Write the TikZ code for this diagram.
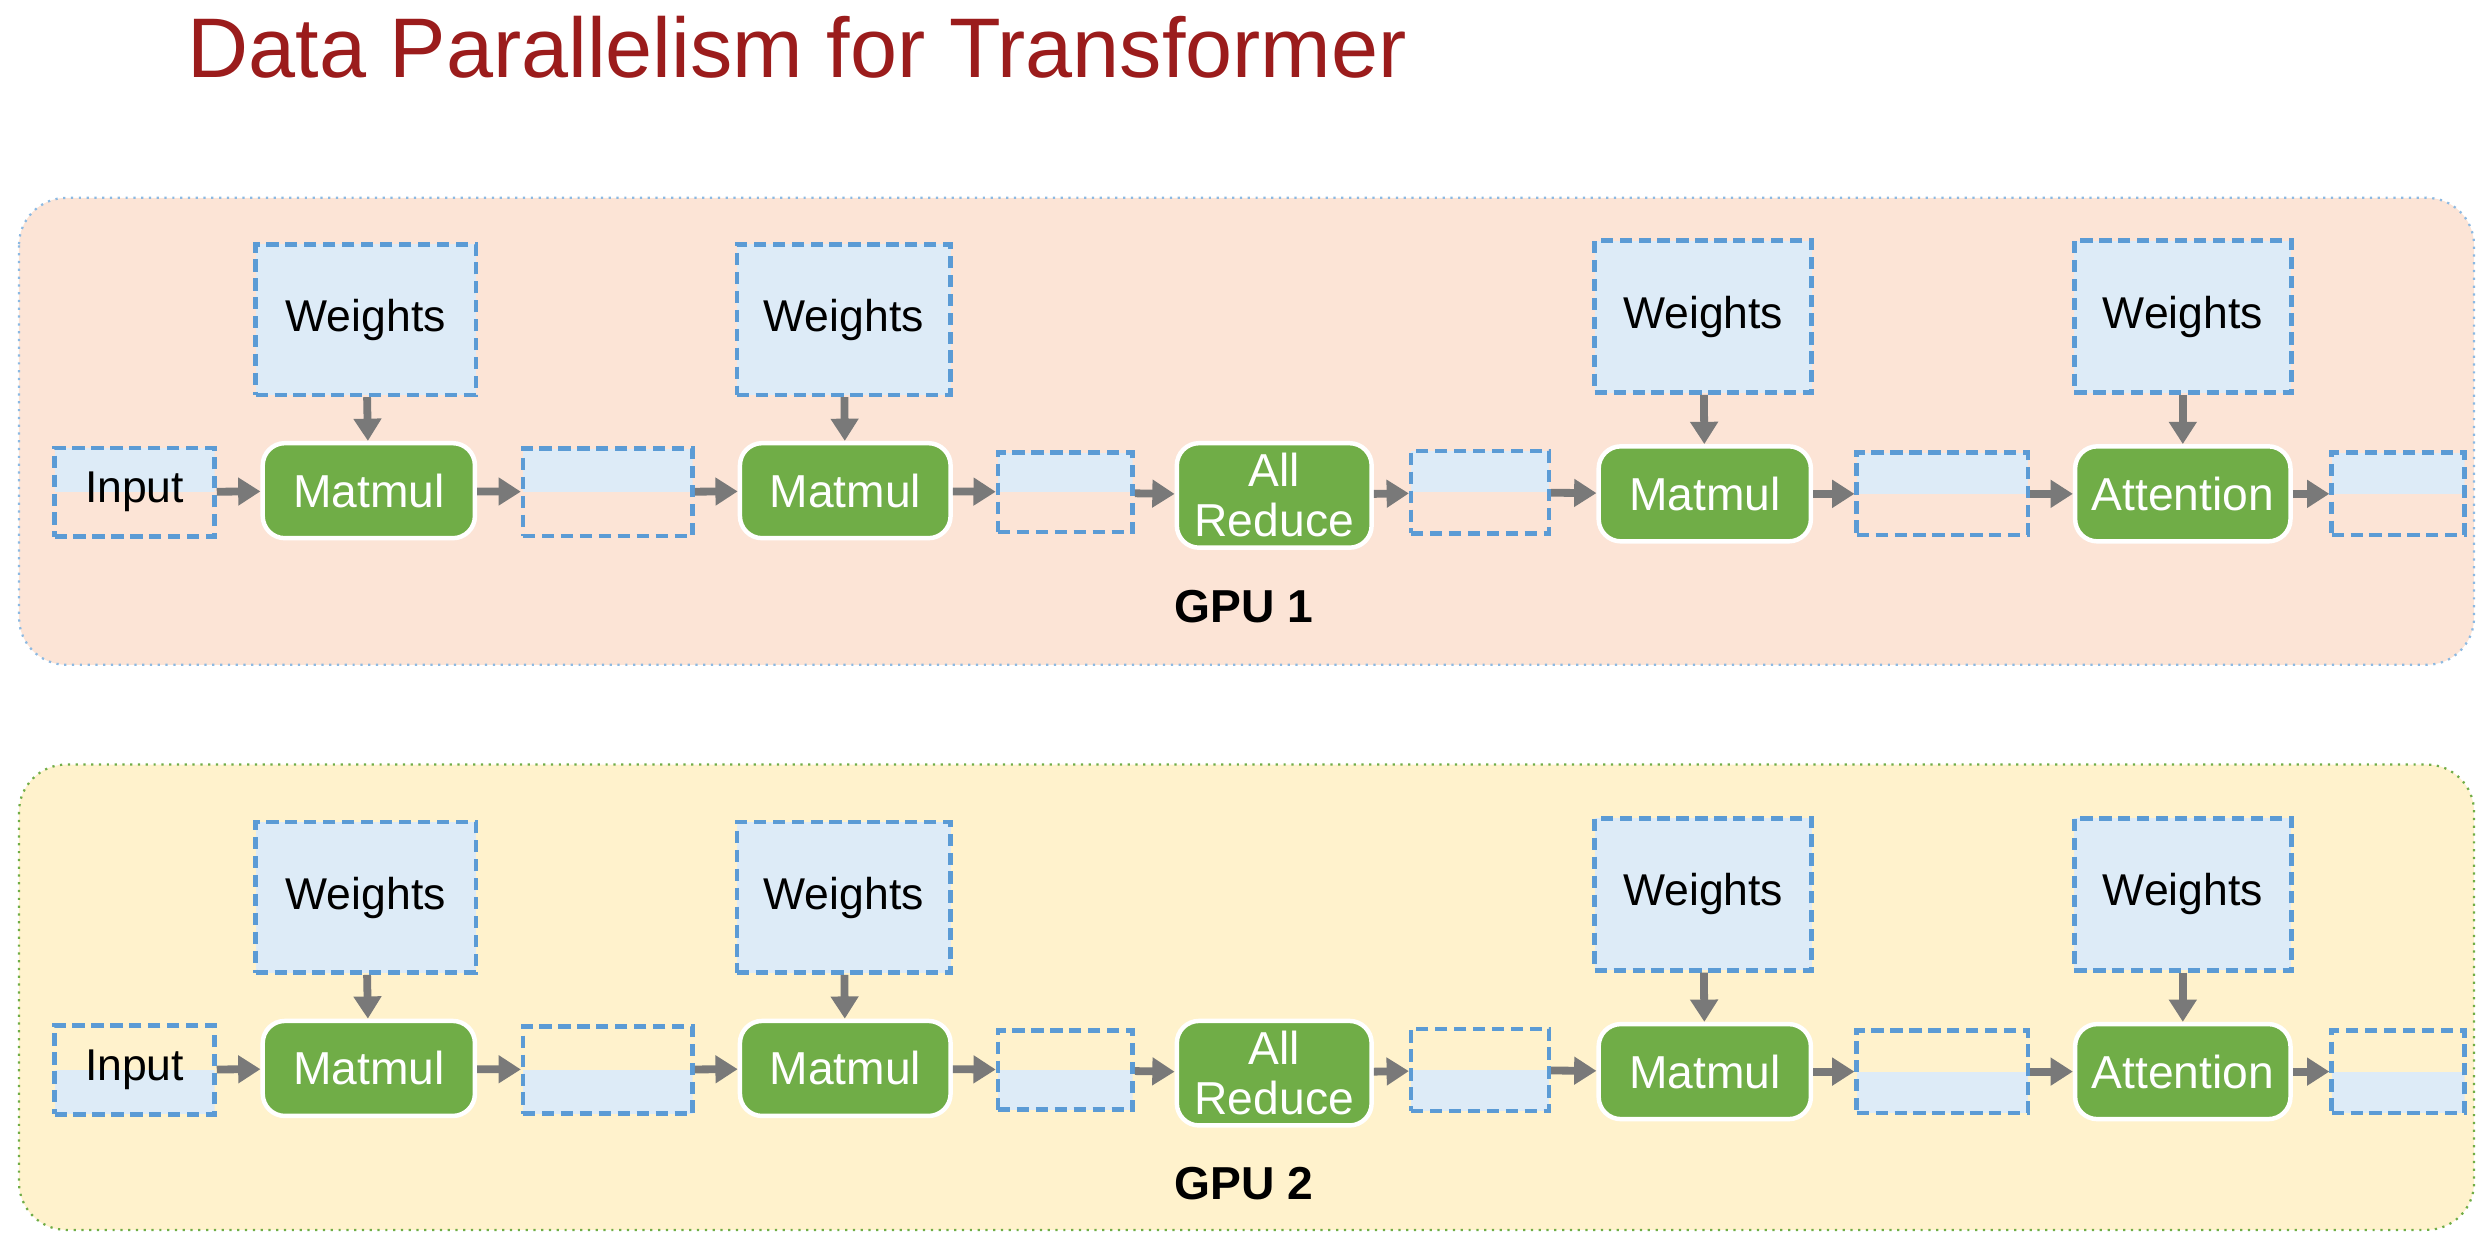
\documentclass[tikz,border=0pt]{standalone}
\usepackage{fontspec}
\setmainfont{Liberation Sans}
\usetikzlibrary{arrows.meta}
\definecolor{titlered}{HTML}{9B1C1C}
\definecolor{opgreen}{HTML}{70AD47}
\definecolor{datablue}{HTML}{DDEBF7}
\definecolor{dashblue}{HTML}{5B9BD5}
\definecolor{peach}{HTML}{FCE4D6}
\definecolor{cream}{HTML}{FFF2CC}
\tikzset{
  panel/.style={rounded corners=0.3cm, densely dotted},
  opbox/.style={fill=opgreen, draw=white, thick, rounded corners=0.14cm, text=white, align=center, font=\fontsize{8.3}{9}\selectfont, inner sep=0pt},
  databox/.style={draw=dashblue, dash pattern=on 2.2pt off 1.2pt, line width=0.8pt, inner sep=0pt, font=\fontsize{8}{9}\selectfont},
  tophalf/.style={path picture={\fill[datablue] (path picture bounding box.north west) rectangle (path picture bounding box.east);}},
  bothalf/.style={path picture={\fill[datablue] (path picture bounding box.west) rectangle (path picture bounding box.south east);}},
  wbox/.style={draw=dashblue, dash pattern=on 2.2pt off 1.2pt, line width=0.8pt, fill=datablue, font=\fontsize{8}{9}\selectfont},
  flow/.style={-{Triangle[length=4pt,width=4.8pt]}, draw=gray!95!black, line width=1.4pt},
}
\begin{document}
\begin{tikzpicture}[x=0.01cm, y=-0.01cm]
\useasboundingbox (0,0) rectangle (1568,780);
\node[text=titlered, font=\fontsize{15.2}{18}\selectfont, anchor=west] (title) at (106,30) {Data Parallelism for Transformer};
%panels
\draw[panel, fill=peach, draw=dashblue!70] (12,125) rectangle (1563,420);
\draw[panel, fill=cream, draw=opgreen] (12,483) rectangle (1563,777);
\foreach \g/\dy/\half in {1/0/tophalf, 2/365/bothalf}{
  \begin{scope}[yshift=-\dy*0.01cm]
  \node[databox, \half, minimum width=1.01cm, minimum height=0.56cm] (in\g) at (85,311) {Input};
  \node[opbox, minimum width=1.34cm, minimum height=0.6cm] (mm1\g) at (233,310) {Matmul};
  \node[databox, \half, minimum width=1.07cm, minimum height=0.55cm] (d1\g) at (384,311) {};
  \node[opbox, minimum width=1.33cm, minimum height=0.6cm] (mm2\g) at (534,310) {Matmul};
  \node[databox, \half, minimum width=0.85cm, minimum height=0.5cm] (d2\g) at (673,311) {};
  \node[opbox, minimum width=1.23cm, minimum height=0.66cm] (ar\g) at (805,313) {All\\Reduce};
  \node[databox, \half, minimum width=0.87cm, minimum height=0.52cm] (d3\g) at (935,311) {};
  \node[opbox, minimum width=1.34cm, minimum height=0.6cm] (mm3\g) at (1077,312) {Matmul};
  \node[databox, \half, minimum width=1.08cm, minimum height=0.52cm] (d4\g) at (1227,312) {};
  \node[opbox, minimum width=1.36cm, minimum height=0.6cm] (att\g) at (1379,312) {Attention};
  \node[databox, \half, minimum width=0.84cm, minimum height=0.52cm] (d5\g) at (1515,312) {};
  \node[wbox, minimum width=1.39cm, minimum height=0.95cm] (w1\g) at (231,202) {Weights};
  \node[wbox, minimum width=1.35cm, minimum height=0.95cm] (w2\g) at (533,202) {Weights};
  \node[wbox, minimum width=1.37cm, minimum height=0.96cm] (w3\g) at (1076,200) {Weights};
  \node[wbox, minimum width=1.37cm, minimum height=0.96cm] (w4\g) at (1379,200) {Weights};
  \node[font=\bfseries\fontsize{8.3}{9}\selectfont] (gpu\g) at (786,383) {GPU \g};
  \end{scope}
  \draw[flow] (in\g) -- (mm1\g);
  \draw[flow] (mm1\g) -- (d1\g);
  \draw[flow] (d1\g) -- (mm2\g);
  \draw[flow] (mm2\g) -- (d2\g);
  \draw[flow] (d2\g) -- (ar\g);
  \draw[flow] (ar\g) -- (d3\g);
  \draw[flow] (d3\g) -- (mm3\g);
  \draw[flow] (mm3\g) -- (d4\g);
  \draw[flow] (d4\g) -- (att\g);
  \draw[flow] (att\g) -- (d5\g);
  \draw[flow] (w1\g) -- (mm1\g);
  \draw[flow] (w2\g) -- (mm2\g);
  \draw[flow] (w3\g) -- (mm3\g);
  \draw[flow] (w4\g) -- (att\g);
}
\end{tikzpicture}
\end{document}
